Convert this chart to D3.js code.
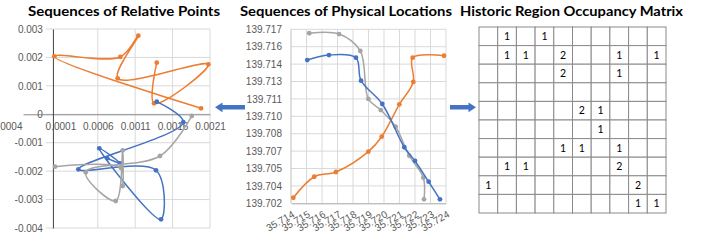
<!DOCTYPE html>
<html>
<head>
<meta charset="utf-8">
<script src="https://cdn.jsdelivr.net/npm/d3@7"></script>
<style>
  body { margin: 0; background: #fff; }
  svg { display: block; font-family: Lato, "Liberation Sans", sans-serif; }
  .tick text { fill: #595959; font-size: 10px; }
  .title { font-weight: bold; font-size: 14px; fill: #000; }
  .cell-num { font-size: 10.5px; fill: #000; }
</style>
</head>
<body>
<div id="chart"></div>
<script>
// Relative points (x, y) for each sequence
const relOrange = [
  [0.001388, 0.001815], [0.001352, 0.000387], [0.002078, 0.001759], [0.000866, 0.001266],
  [0.001142, 0.002765], [0.000901, 0.002016], [0.000019, 0.002040], [0.001980, 0.000211]
];
const relBlue = [
  [0.001388, 0.000443], [0.001743, -0.000280], [0.000340, -0.001935], [0.001378, -0.001970],
  [0.001445, -0.003694], [0.000620, -0.001196], [0.000897, -0.001724], [0.000727, -0.001548]
];
const relGray = [
  [0.001856, -0.000060], [0.001432, -0.001467], [0.000439, -0.002040], [0.000840, -0.003050],
  [0.000933, -0.001266], [0.000933, -0.002522], [0.000910, -0.001889], [0.000028, -0.001843]
];
const relXTicks = [-0.0004, 0.0001, 0.0006, 0.0011, 0.0016, 0.0021];
const relXLabels = ["-0.0004", "0.0001", "0.0006", "0.0011", "0.0016", "0.0021"];
const relYTicks = [-0.004, -0.003, -0.002, -0.001, 0, 0.001, 0.002, 0.003];
const relYLabels = ["-0.004", "-0.003", "-0.002", "-0.001", "0", "0.001", "0.002", "0.003"];

// Physical locations (lat, lon) for each sequence, middle chart
const locOrange = [
  [35.71415, 139.70248], [35.71550, 139.70429], [35.71690, 139.70470], [35.71899, 139.70645],
  [35.71985, 139.70774], [35.72099, 139.71053], [35.72189, 139.71246], [35.72185, 139.71455],
  [35.72387, 139.71472]
];
const locBlue = [
  [35.71505, 139.71435], [35.71645, 139.71478], [35.71819, 139.71455], [35.71852, 139.71257],
  [35.71989, 139.71056], [35.72131, 139.70683], [35.72200, 139.70565], [35.72288, 139.70386],
  [35.72361, 139.70234]
];
const locGray = [
  [35.71518, 139.71666], [35.71710, 139.71659], [35.71847, 139.71513], [35.71899, 139.71100],
  [35.71979, 139.71004], [35.72075, 139.70860], [35.72163, 139.70610], [35.72254, 139.70421],
  [35.72258, 139.70234]
];
const locXTicks = [35.714, 35.715, 35.716, 35.717, 35.718, 35.719, 35.720, 35.721, 35.722, 35.723, 35.724];
const locXLabels = ["35.714", "35.715", "35.716", "35.717", "35.718", "35.719", "35.720", "35.721", "35.722", "35.723", "35.724"];
const locYTicks = [139.702, 139.7035, 139.705, 139.7065, 139.708, 139.7095, 139.711, 139.7125, 139.714, 139.7155, 139.717];
const locYLabels = ["139.702", "139.704", "139.705", "139.707", "139.708", "139.710", "139.711", "139.713", "139.714", "139.716", "139.717"];

// Occupancy counts, 10 x 10 (0 = empty cell)
const occupancy = [
  [0, 1, 0, 1, 0, 0, 0, 0, 0, 0],
  [0, 1, 1, 0, 2, 0, 0, 1, 0, 1],
  [0, 0, 0, 0, 2, 0, 0, 1, 0, 0],
  [0, 0, 0, 0, 0, 0, 0, 0, 0, 0],
  [0, 0, 0, 0, 0, 2, 1, 0, 0, 0],
  [0, 0, 0, 0, 0, 0, 1, 0, 0, 0],
  [0, 0, 0, 0, 1, 1, 0, 1, 0, 0],
  [0, 1, 1, 0, 0, 0, 0, 2, 0, 0],
  [1, 0, 0, 0, 0, 0, 0, 0, 2, 0],
  [0, 0, 0, 0, 0, 0, 0, 0, 1, 1]
];

const colors = { orange: "#ED7D31", blue: "#4472C4", gray: "#A5A5A5" };
const gridColor = "#D9D9D9";

const svg = d3.select("#chart").append("svg")
  .attr("width", 715)
  .attr("height", 242);

// helper to draw one smoothed series with markers
function drawSeries(g, pts, x, y, color) {
  const line = d3.line()
    .x(d => x(d[0]))
    .y(d => y(d[1]))
    .curve(d3.curveCatmullRom.alpha(0.5));
  g.append("path")
    .attr("d", line(pts))
    .attr("fill", "none")
    .attr("stroke", color)
    .attr("stroke-width", 1.5);
  g.selectAll(null)
    .data(pts)
    .enter()
    .append("circle")
    .attr("cx", d => x(d[0]))
    .attr("cy", d => y(d[1]))
    .attr("r", 2.4)
    .attr("fill", color);
}

// ---------- Left chart: relative points ----------
const xRel = d3.scaleLinear().domain([-0.0004, 0.0021]).range([23, 210]);
const yRel = d3.scaleLinear().domain([-0.004, 0.003]).range([228, 29]);
const left = svg.append("g");

left.selectAll(".hgrid")
  .data(relYTicks)
  .enter()
  .append("line")
  .attr("x1", 46).attr("x2", xRel(0.0021))
  .attr("y1", d => yRel(d)).attr("y2", d => yRel(d))
  .attr("stroke", gridColor);

left.selectAll(".vgrid")
  .data(relXTicks.slice(2))
  .enter()
  .append("line")
  .attr("x1", d => xRel(d)).attr("x2", d => xRel(d))
  .attr("y1", yRel(0.003)).attr("y2", yRel(-0.004))
  .attr("stroke", gridColor);

// x axis sits at y = 0
const relXAxis = left.append("g")
  .attr("transform", `translate(0,${yRel(0)})`)
  .call(d3.axisBottom(xRel).tickValues(relXTicks)
    .tickFormat((d, i) => relXLabels[i]).tickSize(0).tickPadding(9));
relXAxis.select(".domain").attr("stroke", "#8C8C8C");
relXAxis.selectAll(".tick text")
  .filter((d, i) => i === 0)
  .attr("text-anchor", "end")
  .attr("x", -1);

// y axis sits at x = 0
const relYAxis = left.append("g")
  .attr("transform", `translate(${xRel(0)},0)`)
  .call(d3.axisLeft(yRel).tickValues(relYTicks)
    .tickFormat((d, i) => relYLabels[i]).tickSize(0).tickPadding(10));
relYAxis.select(".domain").attr("stroke", "#404040");

drawSeries(left, relOrange, xRel, yRel, colors.orange);
drawSeries(left, relBlue, xRel, yRel, colors.blue);
drawSeries(left, relGray, xRel, yRel, colors.gray);

left.append("text")
  .attr("class", "title")
  .attr("x", 28).attr("y", 15.5)
  .attr("textLength", 192)
  .attr("lengthAdjust", "spacingAndGlyphs")
  .text("Sequences of Relative Points");

// ---------- Middle chart: physical locations ----------
const xLoc = d3.scaleLinear().domain([35.714, 35.724]).range([291, 446]);
const yLoc = d3.scaleLinear().domain([139.702, 139.717]).range([203.3, 29.3]);
const mid = svg.append("g");

mid.selectAll(".hgrid")
  .data(locYTicks.slice(1))
  .enter()
  .append("line")
  .attr("x1", xLoc(35.714)).attr("x2", xLoc(35.724))
  .attr("y1", d => yLoc(d)).attr("y2", d => yLoc(d))
  .attr("stroke", gridColor);

mid.selectAll(".vgrid")
  .data(locXTicks)
  .enter()
  .append("line")
  .attr("x1", d => xLoc(d)).attr("x2", d => xLoc(d))
  .attr("y1", yLoc(139.717)).attr("y2", yLoc(139.702))
  .attr("stroke", d => d === 35.714 ? "#BFBFBF" : gridColor);

const locYAxis = mid.append("g")
  .attr("transform", `translate(${xLoc(35.714)},0)`)
  .call(d3.axisLeft(yLoc).tickValues(locYTicks)
    .tickFormat((d, i) => locYLabels[i]).tickSize(0).tickPadding(9));
locYAxis.select(".domain").remove();

const locXAxis = mid.append("g")
  .attr("transform", `translate(0,${yLoc(139.702)})`)
  .call(d3.axisBottom(xLoc).tickValues(locXTicks)
    .tickFormat((d, i) => locXLabels[i]).tickSize(0));
locXAxis.select(".domain").attr("stroke", "#A6A6A6");
locXAxis.selectAll(".tick text")
  .attr("text-anchor", "end")
  .attr("y", 0).attr("dy", "0.35em")
  .attr("transform", "translate(2,10) rotate(-30)");

drawSeries(mid, locOrange, xLoc, yLoc, colors.orange);
drawSeries(mid, locGray, xLoc, yLoc, colors.gray);
drawSeries(mid, locBlue, xLoc, yLoc, colors.blue);

mid.append("text")
  .attr("class", "title")
  .attr("x", 240).attr("y", 15.5)
  .attr("textLength", 212)
  .attr("lengthAdjust", "spacingAndGlyphs")
  .text("Sequences of Physical Locations");

// ---------- Right: occupancy matrix ----------
const colBand = d3.scaleBand().domain(d3.range(10)).range([479, 666]);
const rowBand = d3.scaleBand().domain(d3.range(10)).range([27, 213]);
const right = svg.append("g");

const cells = [];
occupancy.forEach((row, r) => row.forEach((v, c) => cells.push({ r, c, v })));

right.selectAll("rect")
  .data(cells)
  .enter()
  .append("rect")
  .attr("x", d => colBand(d.c))
  .attr("y", d => rowBand(d.r))
  .attr("width", colBand.bandwidth())
  .attr("height", rowBand.bandwidth())
  .attr("fill", "#fff")
  .attr("stroke", "#8A8A8A")
  .attr("stroke-width", 1);

right.selectAll(".cell-num")
  .data(cells.filter(d => d.v > 0))
  .enter()
  .append("text")
  .attr("class", "cell-num")
  .attr("x", d => colBand(d.c) + colBand.bandwidth() / 2)
  .attr("y", d => rowBand(d.r) + rowBand.bandwidth() / 2)
  .attr("dy", "0.36em")
  .attr("text-anchor", "middle")
  .text(d => d.v);

right.append("text")
  .attr("class", "title")
  .attr("x", 460).attr("y", 16)
  .attr("textLength", 223)
  .attr("lengthAdjust", "spacingAndGlyphs")
  .text("Historic Region Occupancy Matrix");

// ---------- Arrows ----------
const arrowLeft = [[215, 107.3], [222.5, 102.5], [222.5, 105], [245, 105], [245, 109.6], [222.5, 109.6], [222.5, 112.2]];
const arrowRight = [[476, 107.3], [468.5, 102.5], [468.5, 105], [450, 105], [450, 109.6], [468.5, 109.6], [468.5, 112.2]];
svg.selectAll(".arrow")
  .data([arrowLeft, arrowRight])
  .enter()
  .append("path")
  .attr("d", d => "M" + d.join("L") + "Z")
  .attr("fill", colors.blue);
</script>
</body>
</html>
